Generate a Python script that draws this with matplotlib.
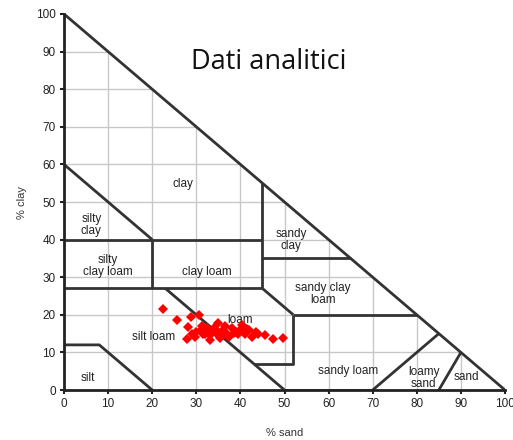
import matplotlib
matplotlib.use("Agg")
import matplotlib.pyplot as plt
from matplotlib.patches import Polygon

# ---- data ----
sand = [22.5, 25.7, 28.8, 30.5, 28.2, 31.2, 35.0, 40.3, 27.8, 29.7, 33.1, 35.4,
        42.6, 45.6, 47.5, 49.7, 43.5, 30.0, 31.0, 32.0, 33.0, 34.0, 35.0, 36.0,
        37.0, 38.0, 39.0, 40.0, 41.0, 36.0, 37.5, 38.5, 31.5, 33.5, 36.5, 39.5,
        29.0, 32.5, 34.5, 41.5, 44.0, 42.0]
clay = [21.5, 18.6, 19.3, 19.9, 16.8, 17.0, 17.7, 17.3, 13.5, 14.2, 13.3, 13.8,
        14.2, 14.6, 13.5, 13.7, 15.5, 15.5, 16.0, 15.0, 14.5, 16.5, 15.5, 16.0,
        15.0, 16.5, 15.5, 16.0, 15.0, 14.5, 14.0, 15.2, 14.8, 15.8, 17.0, 14.8,
        15.0, 16.5, 15.2, 16.2, 15.0, 16.0]

boundaries = [
    [(0, 100), (100, 0)],
    [(0, 60), (20, 40)],
    [(0, 40), (45, 40)],
    [(20, 40), (20, 27)],
    [(0, 27), (45, 27)],
    [(45, 55), (45, 27)],
    [(45, 35), (65, 35)],
    [(45, 27), (52, 20)],
    [(52, 20), (80, 20)],
    [(52, 20), (52, 7), (43, 7)],
    [(23, 27), (50, 0)],
    [(0, 12), (8, 12), (20, 0)],
    [(70, 0), (85, 15)],
    [(85, 0), (90, 10)],
    [(50, 0), (70, 0)],
]

labels = [
    ("clay", 27, 54.8), ("silty\nclay", 6.2, 44), ("silty\nclay loam", 10, 33),
    ("clay loam", 32.5, 31.4), ("sandy\nclay", 51.5, 40), ("sandy clay\nloam", 58.7, 25.5),
    ("loam", 40, 18.6), ("silt loam", 20.3, 14), ("silt", 5.4, 3.2),
    ("sandy loam", 64.4, 5), ("loamy\nsand", 81.6, 3.2), ("sand", 91.2, 3.4),
]

ticks = list(range(0, 101, 10))

plt.rcParams['font.family'] = ['Liberation Sans', 'DejaVu Sans']
fig = plt.figure(figsize=(5.13, 4.40), dpi=100)
ax = fig.add_axes([64/513, 50/440, 441/513, 376/440])
ax.set_xlim(0, 100)
ax.set_ylim(0, 100)

tri = Polygon([(0, 0), (100, 0), (0, 100)], closed=True, transform=ax.transData,
              facecolor='none', edgecolor='none')
ax.add_patch(tri)
for t in ticks[1:-1]:
    l1, = ax.plot([t, t], [0, 100], color='#c8c8c8', lw=1.0, zorder=1)
    l2, = ax.plot([0, 100], [t, t], color='#c8c8c8', lw=1.0, zorder=1)
    l1.set_clip_path(tri)
    l2.set_clip_path(tri)

for b in boundaries:
    xs, ys = zip(*b)
    ax.plot(xs, ys, color='#333333', lw=2.0, solid_capstyle='butt', zorder=2)

for txt, x, y in labels:
    ax.text(x, y, txt, ha='center', va='center', fontsize=8.5, color='#222222',
            linespacing=1.0, zorder=3)

ax.plot(sand, clay, linestyle='none', marker='D', markersize=5.3,
        color='#ff0000', markeredgewidth=0, zorder=4)

for s in ['top', 'right']:
    ax.spines[s].set_visible(False)
for s in ['left', 'bottom']:
    ax.spines[s].set_color('#222222')
    ax.spines[s].set_linewidth(2)
ax.set_xticks(ticks)
ax.set_yticks(ticks)
ax.tick_params(direction='out', length=3, width=1.5, labelsize=8.5, colors='#222222', pad=3)
ax.set_xlabel('% sand', fontsize=8, color='#333333', labelpad=13)
ax.set_ylabel('% clay', fontsize=8, color='#333333', labelpad=6)

fig.text(269/513, 1 - 62/440, 'Dati analitici', ha='center', va='center',
         fontsize=19.5, family=['Open Sans', 'DejaVu Sans'], color='#111111')

fig.savefig('out.png', dpi=100)
